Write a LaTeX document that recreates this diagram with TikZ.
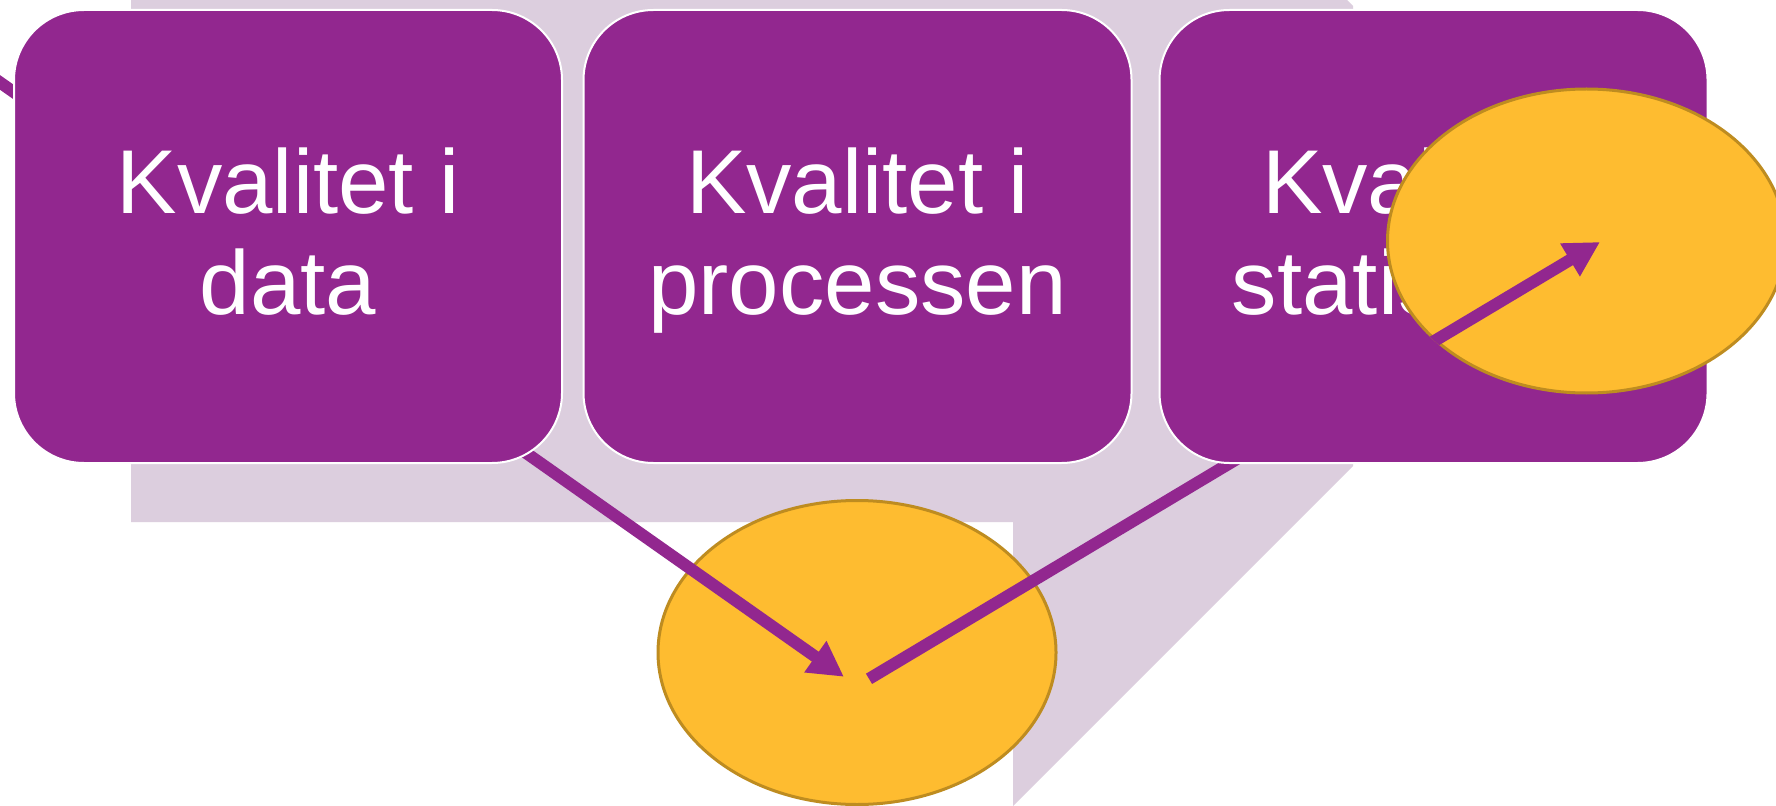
\documentclass[tikz,border=0pt]{standalone}
\usepackage{fontspec}
\setmainfont{Liberation Sans}
\usepackage{tikz}
\usetikzlibrary{arrows.meta,shapes.geometric}

\definecolor{plum}{RGB}{146,39,143}
\definecolor{lilac}{RGB}{220,206,222}
\definecolor{amber}{RGB}{254,188,48}
\definecolor{amberedge}{RGB}{190,140,32}

\newcommand{\ruletop}{\rule{0pt}{0.85cm}}
\newcommand{\rulebot}{\rule[-0.3cm]{0pt}{0.3cm}}

\begin{document}
\begin{tikzpicture}[>={Triangle[length=0.35cm,width=0.36cm]},
    box/.style={draw=white, line width=0.02cm, fill=plum, rounded corners=0.7cm,
        minimum width=5.48cm, minimum height=4.53cm, inner sep=0pt, align=center,
        text=white, font=\fontsize{25.8}{29}\selectfont},
    disc/.style={ellipse, draw=amberedge, line width=0.03cm, fill=amber,
        minimum width=3.98cm, minimum height=3.04cm, inner sep=0pt},
    link/.style={draw=plum, line width=0.12cm}]

        \useasboundingbox (0,0) rectangle (17.76,8.05);
        \fill[white] (0,0) rectangle (17.76,8.05);
        \clip (0,0) rectangle (17.76,8.05);

        % Bakgrund
        \fill[lilac] (1.31,8.55) -- (12.97,8.55) -- (13.53,7.99) -- (13.53,3.39)
            -- (10.13,-0.01) -- (10.13,2.83) -- (1.31,2.83) -- cycle;

        % Nedre ellipsen
        \node[disc] (low) at (8.57,1.525) {};

        % Pilar
        \coordinate (from) at (-1.00,7.93);
        \coordinate (meet) at (8.57,1.19);
        \coordinate (aim) at (16.00,5.63);
        \draw[link, ->, shorten >=0.16cm] (from) -- (meet);
        \draw[link, ->, shorten <=0.14cm] (meet) -- (aim);

        % Rutor
        \node[box] (data) at (2.88,5.685) {\ruletop Kvalitet i\\data\rulebot};
        \node[box] (process) at (8.575,5.685) {\ruletop Kvalitet i\\processen\rulebot};
        \node[box] (stat) at (14.335,5.685) {\ruletop Kvalitet i\\statistiken\rulebot};

        % Övre ellipsen
        \node[disc] (high) at (15.865,5.64) {};
        \begin{scope}
            \clip (high.center) ellipse [x radius=2.005cm, y radius=1.535cm];
            \draw[link, ->, shorten <=0.14cm] (meet) -- (aim);
        \end{scope}

\end{tikzpicture}
\end{document}
